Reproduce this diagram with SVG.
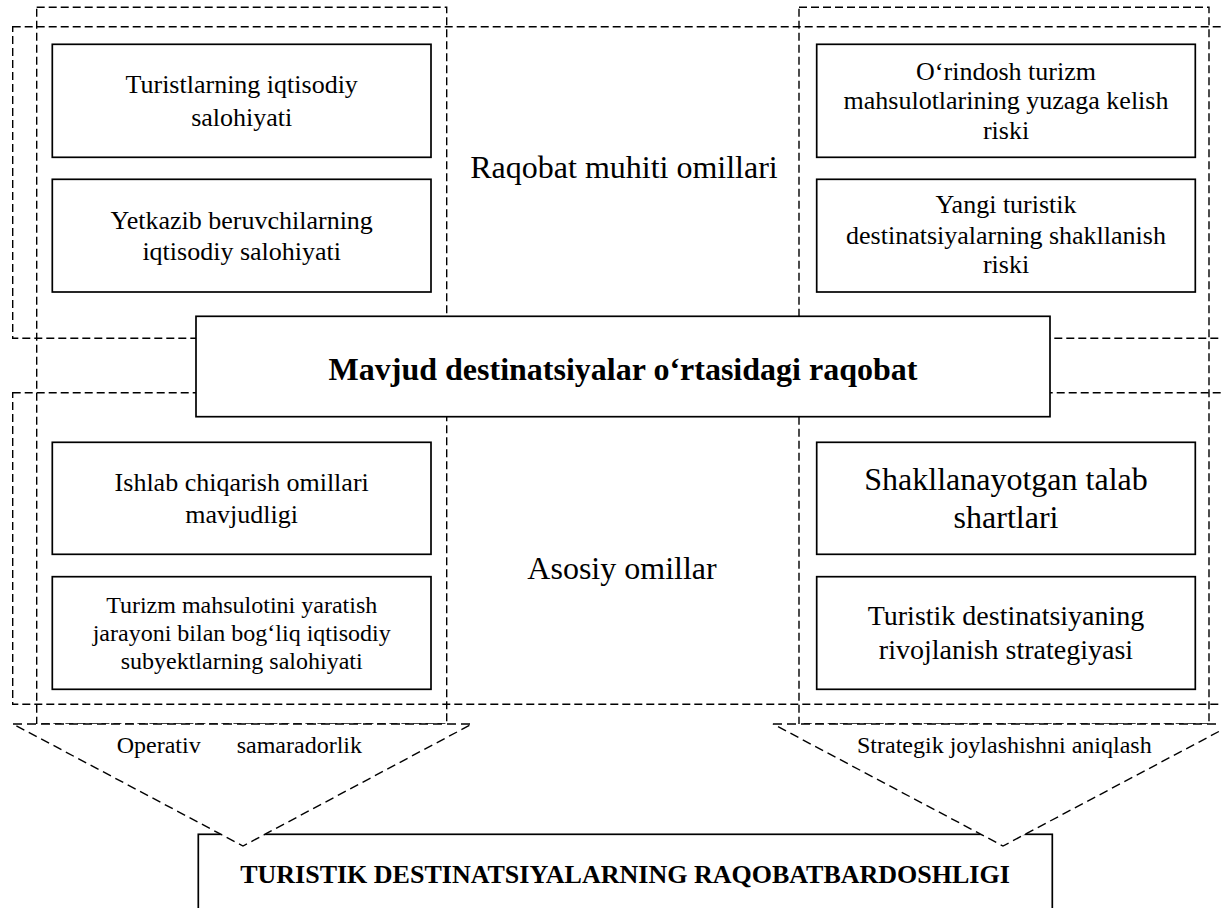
<svg xmlns="http://www.w3.org/2000/svg" width="1221" height="908" viewBox="0 0 1221 908">
<style>
.dash{fill:none;stroke:#000;stroke-width:1.4;stroke-dasharray:8 4}
.tri{fill:#fff;stroke:#000;stroke-width:1.4;stroke-dasharray:9 5}
.box{fill:#fff;stroke:#000;stroke-width:1.7}
.t{font-family:"Liberation Serif","Times New Roman",serif;fill:#000;text-anchor:middle}
.s26{font-size:26px}
.s24{font-size:24px}
.s28{font-size:28px}
.s32{font-size:32px}
.b{font-weight:bold}
</style>
<rect width="1221" height="908" fill="#fff"/>
<g id="frames">
<rect class="dash" x="12.7" y="26.7" width="1215" height="311.6"/>
<rect class="dash" x="12.7" y="392.7" width="1215" height="311.6"/>
<rect class="dash" x="36.7" y="7.3" width="410" height="716.7"/>
<rect class="dash" x="799" y="7.3" width="410" height="716.7"/>
</g>
<g id="label-raqobat-muhiti">
<text class="t s32" x="624" y="178">Raqobat muhiti omillari</text>
</g>
<g id="label-asosiy">
<text class="t s32" x="622" y="579">Asosiy omillar</text>
</g>
<g id="n1">
<rect class="box" x="52.3" y="44.3" width="378.7" height="113"/>
<text class="t s26" x="241.7" y="93.3">Turistlarning iqtisodiy</text>
<text class="t s26" x="241.7" y="126">salohiyati</text>
</g>
<g id="n2">
<rect class="box" x="52.3" y="179.3" width="378.7" height="112.7"/>
<text class="t s26" x="241.7" y="229.3">Yetkazib beruvchilarning</text>
<text class="t s26" x="241.7" y="260">iqtisodiy salohiyati</text>
</g>
<g id="n3">
<rect class="box" x="816.7" y="44.3" width="378.6" height="113"/>
<text class="t s26" x="1006" y="80">O‘rindosh turizm</text>
<text class="t s26" x="1006" y="109.3">mahsulotlarining yuzaga kelish</text>
<text class="t s26" x="1006" y="139.3">riski</text>
</g>
<g id="n4">
<rect class="box" x="816.7" y="179.3" width="378.6" height="112.7"/>
<text class="t s26" x="1006" y="213.3">Yangi turistik</text>
<text class="t s26" x="1006" y="244.3">destinatsiyalarning shakllanish</text>
<text class="t s26" x="1006" y="273.3">riski</text>
</g>
<g id="n5">
<rect class="box" x="52.3" y="442.3" width="378.7" height="112"/>
<text class="t s26" x="241.7" y="491">Ishlab chiqarish omillari</text>
<text class="t s26" x="241.7" y="523.3">mavjudligi</text>
</g>
<g id="n6">
<rect class="box" x="52.3" y="576.7" width="378.7" height="112.6"/>
<text class="t s24" x="241.7" y="613.3">Turizm mahsulotini yaratish</text>
<text class="t s24" x="241.7" y="640.7">jarayoni bilan bog‘liq iqtisodiy</text>
<text class="t s24" x="241.7" y="669.3">subyektlarning salohiyati</text>
</g>
<g id="n7">
<rect class="box" x="816.7" y="442.3" width="378.6" height="112"/>
<text class="t s32" x="1006" y="490">Shakllanayotgan talab</text>
<text class="t s32" x="1006" y="527.7">shartlari</text>
</g>
<g id="n8">
<rect class="box" x="816.7" y="576.7" width="378.6" height="112.6"/>
<text class="t s28" x="1006" y="625">Turistik destinatsiyaning</text>
<text class="t s28" x="1006" y="659.3">rivojlanish strategiyasi</text>
</g>
<g id="center">
<rect class="box" x="196" y="316.3" width="854" height="100.4"/>
<text class="t s32 b" x="623" y="380">Mavjud destinatsiyalar o‘rtasidagi raqobat</text>
</g>
<g id="result">
<rect class="box" x="198.3" y="834.3" width="854" height="90"/>
<text class="t s26 b" x="625" y="883.3">TURISTIK DESTINATSIYALARNING RAQOBATBARDOSHLIGI</text>
</g>
<g id="connectors">
<polygon class="tri" points="13,724 472,724 243,846"/>
<polygon class="tri" points="773,724 1233,724 1003,846"/>
</g>
<g id="conn-labels">
<text class="t s24" style="text-anchor:start"><tspan x="116.7" y="753">Operativ</tspan><tspan x="236.7" y="753">samaradorlik</tspan></text>
<text class="t s24" style="text-anchor:start" x="857" y="753">Strategik joylashishni aniqlash</text>
</g>
</svg>
